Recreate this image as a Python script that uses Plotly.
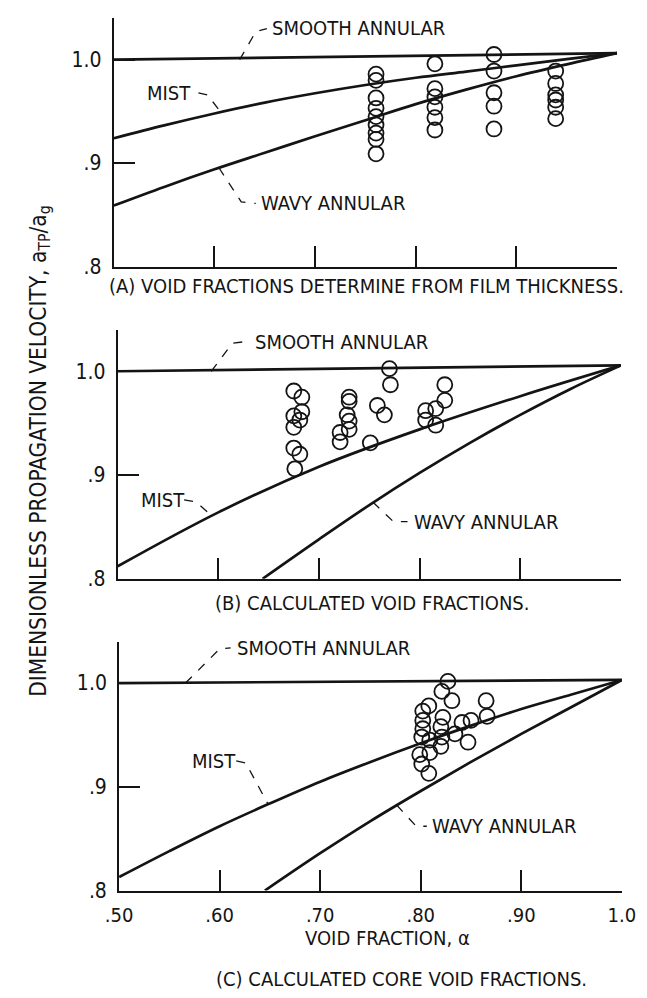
import plotly.graph_objects as go

# ---------------- data ----------------
# Panel A: void fractions determined from film thickness
smooth_a_x = [0.5, 1.0]
smooth_a_y = [1.0, 1.0063]
mist_a_x = [0.5, 0.55, 0.6, 0.65, 0.7, 0.75, 0.8, 0.85, 0.9, 0.95, 1.0]
mist_a_y = [0.924, 0.9365, 0.948, 0.9585, 0.9675, 0.9755, 0.9825, 0.9885, 0.9945, 1.0005, 1.0063]
wavy_a_x = [0.5, 0.55, 0.6, 0.65, 0.7, 0.75, 0.8, 0.85, 0.9, 0.95, 1.0]
wavy_a_y = [0.859, 0.877, 0.894, 0.910, 0.926, 0.9415, 0.957, 0.971, 0.984, 0.9955, 1.0063]
pts_a_x = [0.7605] * 9 + [0.819] * 6 + [0.8777] * 5 + [0.939] * 6
pts_a_y = [0.986, 0.980, 0.963, 0.953, 0.945, 0.937, 0.929, 0.923, 0.909,
           0.996, 0.972, 0.964, 0.954, 0.944, 0.932,
           1.005, 0.989, 0.968, 0.955, 0.933,
           0.989, 0.977, 0.966, 0.961, 0.954, 0.943]

# Panel B: calculated void fractions
smooth_b_x = [0.5, 1.0]
smooth_b_y = [1.0, 1.0057]
mist_b_x = [0.5, 0.6, 0.7, 0.8, 0.9, 1.0]
mist_b_y = [0.812, 0.864, 0.908, 0.944, 0.976, 1.0057]
wavy_b_x = [0.644, 0.7, 0.75, 0.8, 0.85, 0.9, 0.95, 1.0]
wavy_b_y = [0.8, 0.838, 0.871, 0.902, 0.931, 0.958, 0.983, 1.0057]
pts_b_x = [0.675, 0.683, 0.683, 0.675, 0.681, 0.675, 0.675, 0.681, 0.676,
           0.730, 0.730, 0.728, 0.730, 0.730, 0.721, 0.721,
           0.751, 0.758, 0.765, 0.770, 0.771,
           0.806, 0.806, 0.816, 0.816, 0.825, 0.825]
pts_b_y = [0.981, 0.975, 0.961, 0.957, 0.953, 0.946, 0.926, 0.920, 0.906,
           0.975, 0.971, 0.958, 0.952, 0.944, 0.941, 0.932,
           0.931, 0.967, 0.958, 1.0025, 0.987,
           0.962, 0.953, 0.964, 0.948, 0.987, 0.972]

# Panel C: calculated core void fractions
smooth_c_x = [0.5, 1.0]
smooth_c_y = [1.0, 1.003]
mist_c_x = [0.5, 0.55, 0.6, 0.65, 0.7, 0.75, 0.8, 0.85, 0.9, 0.95, 1.0]
mist_c_y = [0.813, 0.838, 0.862, 0.884, 0.905, 0.924, 0.942, 0.959, 0.975, 0.989, 1.003]
wavy_c_x = [0.645, 0.7, 0.75, 0.8, 0.85, 0.9, 0.95, 1.0]
wavy_c_y = [0.8, 0.836, 0.867, 0.896, 0.924, 0.951, 0.977, 1.003]
pts_c_x = [0.827, 0.821, 0.831, 0.865, 0.866, 0.808, 0.802, 0.802, 0.822,
           0.802, 0.820, 0.841, 0.850, 0.801, 0.809, 0.821, 0.834, 0.847,
           0.820, 0.799, 0.809, 0.801, 0.808]
pts_c_y = [1.0016, 0.992, 0.983, 0.983, 0.968, 0.978, 0.973, 0.964, 0.967,
           0.956, 0.958, 0.962, 0.964, 0.948, 0.945, 0.948, 0.951, 0.943,
           0.939, 0.931, 0.933, 0.922, 0.913]

x_tickvals = [0.5, 0.6, 0.7, 0.8, 0.9, 1.0]
x_ticktext = [".50", ".60", ".70", ".80", ".90", "1.0"]
y_tickvals = [0.8, 0.9, 1.0]
y_ticktext = [".8", ".9", "1.0"]

captions = ["(A) VOID FRACTIONS DETERMINE FROM FILM THICKNESS.",
            "(B) CALCULATED VOID FRACTIONS.",
            "(C) CALCULATED CORE VOID FRACTIONS."]

# ---------------- layout helpers ----------------
W, H = 647, 998
FONT = "DejaVu Sans Condensed, Liberation Sans Narrow, Arial Narrow, sans-serif"
INK = "#141414"
FS = 20
TFS = 20

panels = [
    dict(xd=(96, 622), yd=(52.3 - 0.04 * 1047, 261.7),
         series=(smooth_a_x, smooth_a_y, mist_a_x, mist_a_y, wavy_a_x, wavy_a_y, pts_a_x, pts_a_y)),
    dict(xd=(100, 626), yd=(367.7 - 0.04 * 1050, 577.7),
         series=(smooth_b_x, smooth_b_y, mist_b_x, mist_b_y, wavy_b_x, wavy_b_y, pts_b_x, pts_b_y)),
    dict(xd=(101.5, 627), yd=(683.3 - 0.04 * 1050, 893.3),
         series=(smooth_c_x, smooth_c_y, mist_c_x, mist_c_y, wavy_c_x, wavy_c_y, pts_c_x, pts_c_y)),
]

fig = go.Figure()
layout = dict(width=W, height=H, margin=dict(l=0, r=0, t=0, b=0),
              plot_bgcolor="white", paper_bgcolor="white", showlegend=False,
              font=dict(family=FONT, size=FS, color=INK))

for i, p in enumerate(panels):
    n = "" if i == 0 else str(i + 1)
    xa, ya = "x" + n, "y" + n
    sx, sy, mx, my, wx, wy, cx, cy = p["series"]
    for lx, ly in ((sx, sy), (mx, my), (wx, wy)):
        fig.add_trace(go.Scatter(x=lx, y=ly, mode="lines", xaxis=xa, yaxis=ya,
                                 line=dict(color=INK, width=2.7, shape="spline", smoothing=1.0),
                                 cliponaxis=True, hoverinfo="skip"))
    fig.add_trace(go.Scatter(x=cx, y=cy, mode="markers", xaxis=xa, yaxis=ya,
                             marker=dict(symbol="circle-open", size=15, color=INK,
                                         line=dict(width=1.8, color=INK)),
                             cliponaxis=False))
    x0, x1 = p["xd"]
    t, b = p["yd"]
    layout["xaxis" + n] = dict(domain=[x0 / W, x1 / W], range=[0.5, 1.0], anchor=ya,
                               showgrid=False, zeroline=False, showline=True,
                               linecolor=INK, linewidth=2, ticks="inside", ticklen=21,
                               tickwidth=2, tickcolor=INK, tickvals=x_tickvals,
                               ticktext=x_ticktext, showticklabels=(i == 2),
                               tickfont=dict(size=TFS),
                               ticklabelstandoff=5, fixedrange=True)
    layout["yaxis" + n] = dict(domain=[1 - b / H, 1 - t / H], range=[0.8, 1.04], anchor=xa,
                               showgrid=False, zeroline=False, showline=True,
                               linecolor=INK, linewidth=2, ticks="inside", ticklen=21,
                               tickwidth=2, tickcolor=INK, tickvals=y_tickvals,
                               ticktext=y_ticktext, tickfont=dict(size=TFS + 1),
                               ticklabelstandoff=6, fixedrange=True)

fig.update_layout(**layout)

# ---------------- labels and leaders ----------------
dash = dict(color=INK, width=1.3, dash="dash")


def label(text, x, y, xa, ya, xanchor="left"):
    fig.add_annotation(text=text, x=x, y=y, xref=xa, yref=ya, showarrow=False,
                       xanchor=xanchor, yanchor="middle")


def paper_label(text, px, py, angle=0, size=FS):
    fig.add_annotation(text=text, x=px / W, y=1 - py / H, xref="paper", yref="paper",
                       showarrow=False, xanchor="center", yanchor="middle", textangle=angle,
                       font=dict(size=size))


def leader(points, xa, ya):
    path = "M " + " L ".join(f"{x},{y}" for x, y in points)
    fig.add_shape(type="path", path=path, xref=xa, yref=ya, line=dash)


# Panel A
label("SMOOTH ANNULAR", 0.655, 1.031, "x", "y")
leader([(0.625, 1.0), (0.641, 1.027), (0.652, 1.030)], "x", "y")
label("MIST", 0.579, 0.968, "x", "y", xanchor="right")
leader([(0.584, 0.968), (0.593, 0.966), (0.6076, 0.9475)], "x", "y")
label("WAVY ANNULAR", 0.6445, 0.861, "x", "y")
leader([(0.6044, 0.8955), (0.6266, 0.8625), (0.641, 0.861)], "x", "y")
paper_label(captions[0], 360, 281)

# Panel B
label("SMOOTH ANNULAR", 0.634, 1.0286, "x2", "y2")
leader([(0.593, 1.0), (0.614, 1.027), (0.6266, 1.0286)], "x2", "y2")
label("MIST", 0.521, 0.876, "x2", "y2")
leader([(0.566, 0.876), (0.578, 0.874), (0.593, 0.861)], "x2", "y2")
label("WAVY ANNULAR", 0.792, 0.855, "x2", "y2")
leader([(0.7535, 0.874), (0.774, 0.855), (0.788, 0.855)], "x2", "y2")
paper_label(captions[1], 366, 602)

# Panel C
label("SMOOTH ANNULAR", 0.6155, 1.0338, "x3", "y3")
leader([(0.566, 1.0), (0.600, 1.033), (0.611, 1.034)], "x3", "y3")
label("MIST", 0.571, 0.925, "x3", "y3")
leader([(0.6165, 0.925), (0.626, 0.923), (0.6477, 0.884)], "x3", "y3")
label("WAVY ANNULAR", 0.809, 0.862, "x3", "y3")
leader([(0.776, 0.8825), (0.7955, 0.862), (0.806, 0.862)], "x3", "y3")
paper_label("VOID FRACTION, α", 382, 941)
paper_label(captions[2], 397, 983)

# shared y-axis title
paper_label("DIMENSIONLESS PROPAGATION VELOCITY, a<sub>TP</sub>/a<sub>g</sub>", 18, 448,
            angle=-90, size=22.5)

fig.write_html("out.html")
